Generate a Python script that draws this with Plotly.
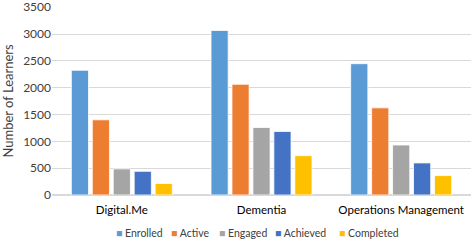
import plotly.graph_objects as go

categories = ["Digital.Me", "Dementia", "Operations Management"]
series_names = ["Enrolled", "Active", "Engaged", "Achieved", "Completed"]
enrolled = [2325, 3068, 2448]
active = [1402, 2065, 1625]
engaged = [487, 1259, 932]
achieved = [442, 1185, 598]
completed = [214, 733, 362]
colors = ["#5B9BD5", "#ED7D31", "#A5A5A5", "#4472C4", "#FFC000"]

fig = go.Figure()
for name, vals, c in zip(series_names, [enrolled, active, engaged, achieved, completed], colors):
    fig.add_trace(go.Bar(x=categories, y=vals, name=name, marker_color=c,
                         marker_line_color="white", marker_line_width=0.8,
                         showlegend=False))

font = "Lato, Open Sans, sans-serif"

# manual compact legend (paper coordinates)
legend_x = [0.148, 0.28, 0.394, 0.528, 0.681]
for name, c, lx in zip(series_names, colors, legend_x):
    fig.add_annotation(xref="paper", yref="paper", x=lx, y=-0.2, xanchor="left", yanchor="middle",
                       text=f"<span style='color:{c}'>■</span> {name}", showarrow=False,
                       font=dict(family=font, size=10.5, color="#404040"))

fig.update_layout(
    width=473, height=240,
    margin=dict(l=52, r=2, t=7, b=45),
    paper_bgcolor="white", plot_bgcolor="white",
    barmode="group", bargap=0.25, bargroupgap=0.18,
    font=dict(family=font, size=11, color="#404040"),
    showlegend=False,
    yaxis=dict(range=[0, 3505], tickvals=[0, 500, 1000, 1500, 2000, 2500, 3000, 3500],
               showgrid=True, gridcolor="#D9D9D9",
               gridwidth=1, zeroline=True, zerolinecolor="#D9D9D9", automargin=False,
               ticklabeloverflow="allow",
               tickfont=dict(size=12, color="#404040"), ticks="",
               title=dict(text="Number of Learners", font=dict(size=13, color="#404040"), standoff=6)),
    xaxis=dict(showline=True, linecolor="#D9D9D9", ticks="", automargin=False,
               ticklabelstandoff=4,
               tickfont=dict(size=11.5, color="#000000")),
)
fig.write_html("out.html", config={"displayModeBar": False},
               post_script="document.body.style.margin='0';document.body.style.overflow='hidden';")
